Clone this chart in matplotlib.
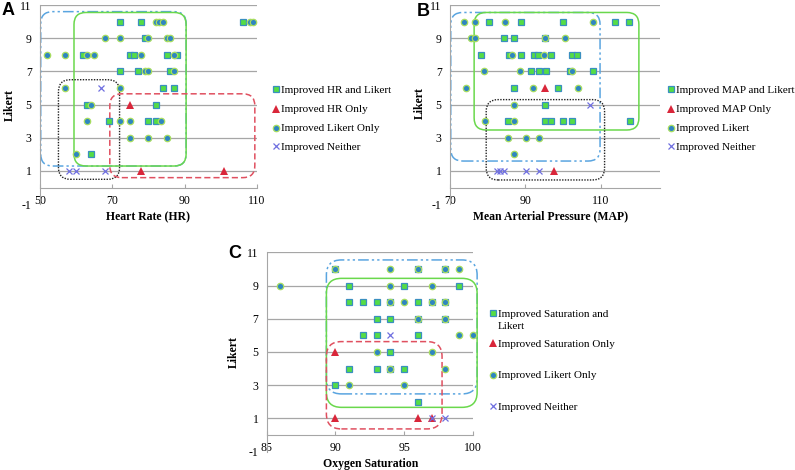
import matplotlib
matplotlib.use("Agg")
import matplotlib.pyplot as plt
from matplotlib.lines import Line2D
from matplotlib.patches import FancyBboxPatch

plt.rcParams.update({
    "font.family": ["Liberation Serif", "DejaVu Serif"],
    "font.size": 8.5,
    "axes.unicode_minus": False,
})

W, H = 795, 470

# ---- Panel A: heart rate vs Likert ----
A_BOTH_X = [72, 78, 106, 79, 62, 75, 76, 85, 88, 72, 77, 86, 84, 87, 63, 82, 69, 80, 82, 64]
A_BOTH_Y = [10, 10, 10, 9, 8, 8, 8, 8, 8, 7, 7, 7, 6, 6, 5, 5, 4, 4, 4, 2]
A_LIK_X = [82, 83, 84, 108, 109, 68, 72, 80, 85, 86, 52, 57, 63, 65, 78, 87,
           79, 80, 87, 57, 72, 64, 63, 72, 75, 83.5, 75, 80, 85, 60]
A_LIK_Y = [10, 10, 10, 10, 10, 9, 9, 9, 9, 9, 8, 8, 8, 8, 8, 8,
           7, 7, 7, 6, 6, 5, 4, 4, 4, 4, 3, 3, 3, 2]
A_ONLY_X = [75, 78, 101]
A_ONLY_Y = [5, 1, 1]
A_NONE_X = [67, 58, 60, 68]
A_NONE_Y = [6, 1, 1, 1]
A_KEY = ["Improved HR and Likert", "Improved HR Only", "Improved Likert Only", "Improved Neither"]
A_REGIONS = [(50.2, 1.3, 90.4, 10.6, "blue"), (59.4, 1.3, 90.4, 10.55, "green"),
             (55.1, 0.5, 72.0, 6.5, "black"), (69.3, 0.6, 109.4, 5.65, "red")]

# ---- Panel B: MAP vs Likert ----
B_BOTH_X = [80.4, 88.8, 100, 113.8, 117.4,
            84.4, 86.9, 95.3,
            78.3, 85.7, 88.9, 92.3, 93.4, 96.8, 102.3, 103.7,
            91.6, 93.7, 95.5, 101.7, 108,
            86.9, 98.7,
            95.3,
            85.4, 95.1, 96.9, 100, 102.4, 117.7]
B_BOTH_Y = [10, 10, 10, 10, 10,
            9, 9, 9,
            8, 8, 8, 8, 8, 8, 8, 8,
            7, 7, 7, 7, 7,
            6, 6,
            5,
            4, 4, 4, 4, 4, 4]
B_LIK_X = [73.6, 76.7, 84.7, 107.9, 75.6, 76.5, 95.3, 100.4, 86.4, 95,
           79.1, 88.6, 102.4, 74.3, 91.9, 103.9, 86.9, 79.3, 86.9,
           85.4, 90.2, 93.6, 86.9]
B_LIK_Y = [10, 10, 10, 10, 9, 9, 9, 9, 8, 8,
           7, 7, 7, 6, 6, 6, 5, 4, 4,
           3, 3, 3, 2]
B_ONLY_X = [95.1, 97.7]
B_ONLY_Y = [6, 1]
B_NONE_X = [107.1, 82.4, 83.3, 84.2, 90.2, 93.6]
B_NONE_Y = [5, 1, 1, 1, 1, 1]
B_KEY = ["Improved MAP and Likert", "Improved MAP Only", "Improved Likert", "Improved Neither"]
B_REGIONS = [(70.2, 1.6, 109.8, 10.55, "blue"), (76.4, 3.47, 120.1, 10.55, "green"),
             (79.6, 0.46, 111.0, 5.3, "black")]

# ---- Panel C: oxygen saturation vs Likert ----
C_BOTH_X = [90, 96, 98, 91, 95, 99, 91, 92, 93, 94, 96, 97, 98, 93, 94, 96, 98,
            92, 93, 96, 94, 91, 93, 94, 95, 90, 96]
C_BOTH_Y = [10, 10, 10, 9, 9, 9, 8, 8, 8, 8, 8, 8, 8, 7, 7, 7, 7,
            6, 6, 6, 5, 4, 4, 4, 4, 3, 2]
C_LIK_X = [90, 94, 96, 98, 99, 86, 94, 97, 94, 95, 97, 98, 96, 98, 99, 100,
           93, 97, 94, 98, 91, 95]
C_LIK_Y = [10, 10, 10, 10, 10, 9, 9, 9, 8, 8, 8, 8, 7, 7, 6, 6,
           5, 5, 4, 4, 3, 3]
C_ONLY_X = [90, 90, 96, 97]
C_ONLY_Y = [5, 1, 1, 1]
C_NONE_X = [94, 97, 98]
C_NONE_Y = [6, 1, 1]
C_KEY = ["Improved Saturation and\nLikert", "Improved Saturation Only",
         "Improved Likert Only", "Improved Neither"]
C_REGIONS = [(89.34, 2.47, 100.3, 10.54, "blue"), (89.34, 1.66, 100.3, 9.43, "green"),
             (89.34, 0.36, 97.75, 5.62, "red")]

GRID = "#a6a6a6"
MARKS = {
    "both": dict(marker="s", ms=4.3, mfc="#55dd44", mec="#3a8fc0", mew=0.9),
    "likert": dict(marker="o", ms=4.6, mfc="#2f86c0", mec="#a8dd60", mew=0.9),
    "only": dict(marker="^", ms=5.4, mfc="#d9263a", mec="#d9263a", mew=0),
    "neither": dict(marker="x", ms=4.6, mec="#6f6fe0", mew=0.9),
}
REGION_STYLE = {
    "blue": dict(edgecolor="#5aa5e0", lw=1.1, linestyle=(0, (7, 2, 1.5, 2, 1.5, 2))),
    "green": dict(edgecolor="#6ad84c", lw=1.1, linestyle="-"),
    "black": dict(edgecolor="#222222", lw=1.0, linestyle=(0, (1, 1))),
    "red": dict(edgecolor="#e05060", lw=1.1, linestyle=(0, (4, 2))),
}


def px_rect(left, top, right, bottom):
    return [left / W, 1 - bottom / H, (right - left) / W, (bottom - top) / H]


def add_region(ax, x0, y0, x1, y1, style, radius_px):
    bbox = ax.get_window_extent()
    (xa, xb), (ya, yb) = ax.get_xlim(), ax.get_ylim()
    sx = bbox.width / (xb - xa)
    sy = bbox.height / (yb - ya)
    patch = FancyBboxPatch((x0, y0), x1 - x0, y1 - y0,
                           boxstyle=f"round,pad=0,rounding_size={radius_px / sx}",
                           mutation_aspect=sx / sy, fill=False, clip_on=False,
                           zorder=2, **REGION_STYLE[style])
    ax.add_patch(patch)


def draw_panel(fig, rect, xlim, xticks, series, regions, radius_px=12):
    ax = fig.add_axes(rect)
    ax.set_xlim(*xlim)
    ax.set_ylim(-1, 11)
    ax.set_xticks(xticks)
    ax.set_yticks(range(-1, 12, 2))
    for s in ("top", "right"):
        ax.spines[s].set_visible(False)
    ax.spines["left"].set_color(GRID)
    ax.spines["bottom"].set_color(GRID)
    ax.spines["bottom"].set_position(("data", 0))
    ax.tick_params(axis="y", length=0, pad=6, labelsize=8.5)
    ax.tick_params(axis="x", length=3, direction="in", color=GRID, pad=5, labelsize=8.5)
    ax.grid(axis="y", color=GRID, lw=0.9)
    ax.get_ygridlines()[0].set_visible(False)
    ax.set_axisbelow(True)

    for x0, y0, x1, y1, style in regions:
        add_region(ax, x0, y0, x1, y1, style, radius_px)

    for kind, (xs, ys) in zip(("both", "likert", "only", "neither"), series):
        ax.plot(xs, ys, ls="none", zorder=3, clip_on=False, **MARKS[kind])
    return ax


def draw_key(fig, x_px, ys_px, labels):
    # hand-placed key so a wrapped label keeps its marker on the first line
    for kind, y, label in zip(("both", "only", "likert", "neither"), ys_px, labels):
        fig.add_artist(Line2D([x_px / W], [1 - y / H], ls="none",
                              transform=fig.transFigure, **MARKS[kind]))
        for i, line in enumerate(label.split("\n")):
            fig.text((x_px + 5) / W, 1 - (y + 3.5 + 12 * i) / H, line, fontsize=8,
                     ha="left", va="baseline")


fig = plt.figure(figsize=(W / 100, H / 100), dpi=100)

draw_panel(fig, px_rect(40, 5, 257, 204.2), (50, 110), [50, 70, 90, 110],
           [(A_BOTH_X, A_BOTH_Y), (A_LIK_X, A_LIK_Y), (A_ONLY_X, A_ONLY_Y), (A_NONE_X, A_NONE_Y)],
           A_REGIONS)
draw_panel(fig, px_rect(450, 5, 660, 204.2), (70, 125.7), [70, 90, 110],
           [(B_BOTH_X, B_BOTH_Y), (B_LIK_X, B_LIK_Y), (B_ONLY_X, B_ONLY_Y), (B_NONE_X, B_NONE_Y)],
           B_REGIONS)
draw_panel(fig, px_rect(266.7, 252.3, 473, 451.5), (85, 100), [85, 90, 95, 100],
           [(C_BOTH_X, C_BOTH_Y), (C_LIK_X, C_LIK_Y), (C_ONLY_X, C_ONLY_Y), (C_NONE_X, C_NONE_Y)],
           C_REGIONS, radius_px=15)

draw_key(fig, 276, [89.3, 108.7, 127.7, 146], A_KEY)
draw_key(fig, 670.7, [89.3, 108.7, 127.7, 146], B_KEY)
draw_key(fig, 492.7, [313.3, 343.3, 375, 406], C_KEY)

# axis titles and panel letters
lab = dict(fontsize=8.5, weight="bold", ha="center", va="center")
fig.text(10 / W, 1 - 105 / H, "Likert", rotation=90, **lab)
fig.text(420 / W, 1 - 103 / H, "Likert", rotation=90, **lab)
fig.text(234 / W, 1 - 352 / H, "Likert", rotation=90, **lab)
fig.text(148 / W, 1 - 217 / H, "Heart Rate (HR)", **lab)
fig.text(551 / W, 1 - 216 / H, "Mean Arterial Pressure (MAP)", **lab)
fig.text(371 / W, 1 - 464 / H, "Oxygen Saturation", **lab)

letter = dict(fontsize=13, weight="bold", family="Liberation Sans", ha="center", va="center")
fig.text(8.5 / W, 1 - 10.5 / H, "A", **letter)
fig.text(423 / W, 1 - 11 / H, "B", **letter)
fig.text(235 / W, 1 - 254 / H, "C", **letter)

fig.savefig("out.png", dpi=100)
